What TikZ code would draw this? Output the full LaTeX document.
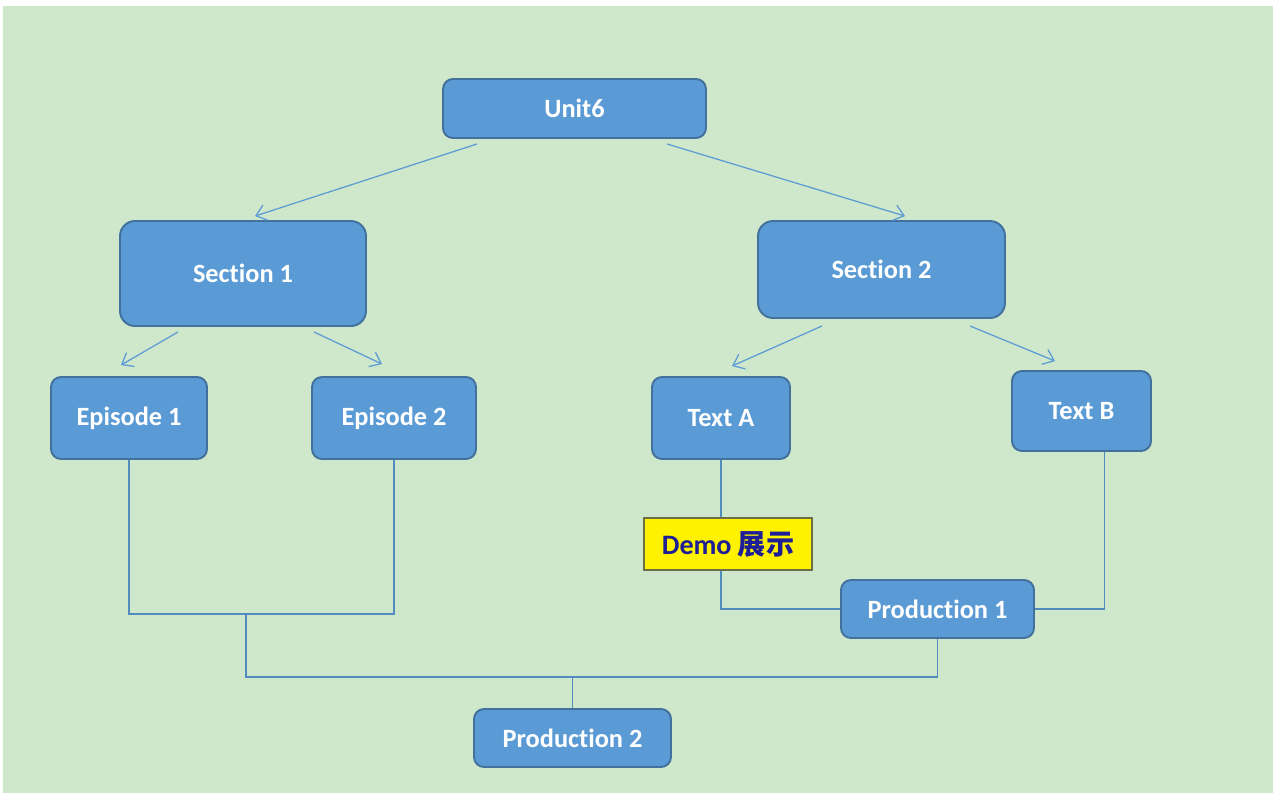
\documentclass[tikz,border=0pt]{standalone}
\usepackage{fontspec}
\usetikzlibrary{arrows.meta}
\newfontfamily\calib{Carlito}[Ligatures=CommonOff]
\newfontfamily\cjk{Noto Sans CJK SC}
\definecolor{bg}{HTML}{CFE7CB}
\definecolor{boxfill}{HTML}{5B9BD5}
\definecolor{boxline}{HTML}{41719C}
\definecolor{demotext}{HTML}{1E1E96}
\definecolor{demoline}{HTML}{6E6E46}

\begin{document}
\begin{tikzpicture}[x=0.02cm, y=-0.02cm,
	box/.style={draw=boxline, line width=1.1pt, fill=boxfill, rounded corners=0.2cm, inner sep=0pt, text=white, font=\calib\bfseries\fontsize{15}{18}\selectfont},
	bigbox/.style={box, rounded corners=0.3cm},
	demobox/.style={draw=demoline, line width=0.8pt, fill=yellow, inner sep=0pt, text=demotext, font=\calib\bfseries\fontsize{16}{19}\selectfont},
	arr/.style={draw=boxfill, line width=0.7pt, -{Straight Barb[length=2mm,width=3.2mm]}},
	link/.style={draw=boxfill!90!black, line width=0.85pt}]
	\useasboundingbox (0,0) rectangle (1275,796);
	\fill[white] (0,0) rectangle (1275,796);
	\fill[bg] (3,6) rectangle (1273,793);
	\node[box, minimum width=5.26cm, minimum height=1.18cm] (unit) at (574.5,108.5) {Unit6};
	\node[bigbox, minimum width=4.92cm, minimum height=2.1cm] (sec1) at (243,273.5) {Section 1};
	\node[bigbox, minimum width=4.94cm, minimum height=1.94cm] (sec2) at (881.5,269.5) {Section 2};
	\node[box, minimum width=3.12cm, minimum height=1.64cm] (ep1) at (129,418) {Episode 1};
	\node[box, minimum width=3.28cm, minimum height=1.64cm] (ep2) at (394,418) {Episode 2};
	\node[box, minimum width=2.76cm, minimum height=1.64cm] (texta) at (721,418) {Text A};
	\node[box, minimum width=2.78cm, minimum height=1.6cm] (textb) at (1081.5,411) {Text B};
	\node[demobox, minimum width=3.36cm, minimum height=1.04cm] (demo) at (728,544) {Demo {\cjk\bfseries 展示}};
	\node[box, minimum width=3.86cm, minimum height=1.16cm] (prod1) at (937.5,609) {Production 1};
	\node[box, minimum width=3.94cm, minimum height=1.16cm] (prod2) at (572.5,738) {Production 2};
	\coordinate (epjoin) at (246,614);
	\coordinate (prjoin) at (572.5,677);
	\draw[arr] ([xshift=-1.95cm,yshift=-0.1cm]unit.south) -- ([xshift=0.24cm,yshift=0.08cm]sec1.north);
	\draw[arr] ([xshift=1.85cm,yshift=-0.1cm]unit.south) -- ([xshift=0.47cm,yshift=0.08cm]sec2.north);
	\draw[arr] ([xshift=-1.3cm,yshift=-0.1cm]sec1.south) -- ([xshift=-0.16cm,yshift=0.22cm]ep1.north);
	\draw[arr] ([xshift=1.42cm,yshift=-0.1cm]sec1.south) -- ([xshift=-0.24cm,yshift=0.24cm]ep2.north);
	\draw[arr] ([xshift=-1.19cm,yshift=-0.14cm]sec2.south) -- ([xshift=0.22cm,yshift=0.2cm]texta.north);
	\draw[arr] ([xshift=1.77cm,yshift=-0.14cm]sec2.south) -- ([xshift=-0.53cm,yshift=0.18cm]textb.north);
	\draw[link] (ep1.south) |- (epjoin) -| (ep2.south);
	\draw[link] (epjoin) |- (prjoin) -| (prod1.south);
	\draw[link] (prjoin) -- (prod2.north);
	\draw[link] (texta.south) -- (texta.south |- demo.north);
	\draw[link] (texta.south |- demo.south) |- (prod1.west);
	\draw[link] ([xshift=0.46cm]textb.south) |- (prod1.east);
\end{tikzpicture}
\end{document}
